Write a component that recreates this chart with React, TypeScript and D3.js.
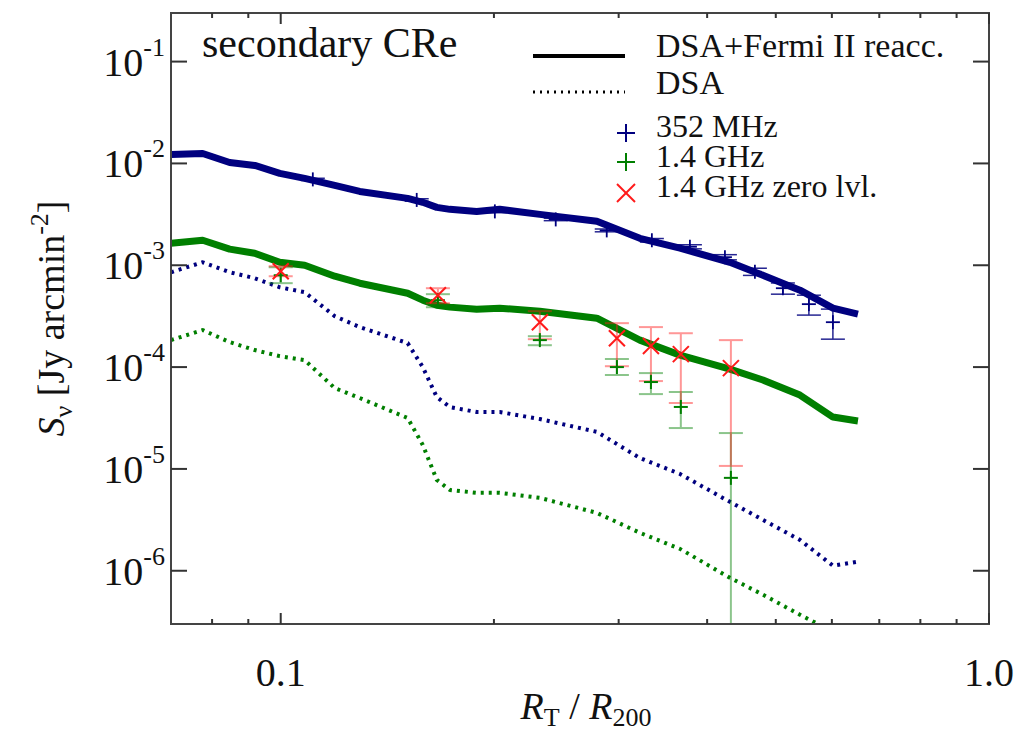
import React from 'react';
import * as d3 from 'd3';

// Model radial grid (R_T / R_200)
const radiusGrid = [0.0700, 0.0776, 0.0847, 0.0919, 0.0997, 0.1081, 0.1192, 0.1293, 0.1511, 0.1587, 0.1661, 0.1733, 0.1891, 0.2038, 0.2322, 0.2795, 0.3214, 0.3662, 0.4307, 0.4795, 0.5408, 0.6021, 0.6531];
// DSA + Fermi II reacceleration, 352 MHz (blue solid)
const reacc352 = [1.225e-2, 1.25e-2, 1.02e-2, 9.56e-3, 7.98e-3, 7.13e-3, 6.08e-3, 5.31e-3, 4.54e-3, 4.15e-3, 3.70e-3, 3.54e-3, 3.38e-3, 3.54e-3, 3.16e-3, 2.70e-3, 1.84e-3, 1.47e-3, 1.07e-3, 7.98e-4, 5.69e-4, 3.79e-4, 3.31e-4];
// DSA + Fermi II reacceleration, 1.4 GHz (green solid)
const reacc14 = [1.64e-3, 1.76e-3, 1.44e-3, 1.31e-3, 1.07e-3, 1.0e-3, 7.80e-4, 6.66e-4, 5.31e-4, 4.54e-4, 4.05e-4, 3.88e-4, 3.70e-4, 3.79e-4, 3.54e-4, 3.02e-4, 1.84e-4, 1.31e-4, 9.56e-5, 7.46e-5, 5.31e-5, 3.23e-5, 2.96e-5];
// DSA only, 352 MHz (blue dotted)
const dsa352 = [8.54e-4, 1.07e-3, 8.54e-4, 7.46e-4, 6.08e-4, 5.44e-4, 3.16e-4, 2.47e-4, 1.72e-4, 1.0e-4, 5.08e-5, 4.05e-5, 3.62e-5, 3.62e-5, 3.09e-5, 2.31e-5, 1.28e-5, 8.93e-6, 4.75e-6, 3.16e-6, 2.01e-6, 1.12e-6, 1.23e-6];
// DSA only, 1.4 GHz (green dotted)
const dsa14 = [1.84e-4, 2.31e-4, 1.76e-4, 1.47e-4, 1.28e-4, 1.17e-4, 6.22e-5, 4.97e-5, 3.16e-5, 1.72e-5, 7.80e-6, 6.22e-6, 5.82e-6, 5.82e-6, 5.20e-6, 3.70e-6, 2.36e-6, 1.64e-6, 8.54e-7, 5.82e-7, 3.70e-7, 2.52e-7, 1.88e-7];

// Observations 352 MHz
const obs352R = [0.1110, 0.1556, 0.2006, 0.2445, 0.2886, 0.3342, 0.3782, 0.4238, 0.4672, 0.5117, 0.5568, 0.6020];
const obs352S = [6.97e-3, 4.38e-3, 3.38e-3, 2.82e-3, 2.20e-3, 1.76e-3, 1.52e-3, 1.20e-3, 8.63e-4, 5.95e-4, 4.15e-4, 2.76e-4];
const obs352Lo = [6.8e-3, 4.25e-3, 3.28e-3, 2.74e-3, 2.13e-3, 1.69e-3, 1.45e-3, 1.13e-3, 7.95e-4, 5.2e-4, 3.24e-4, 1.88e-4];
const obs352Hi = [7.15e-3, 4.5e-3, 3.48e-3, 2.9e-3, 2.27e-3, 1.83e-3, 1.59e-3, 1.27e-3, 9.35e-4, 6.7e-4, 5.08e-4, 3.71e-4];

// Observations 1.4 GHz
const obs14R = [0.1, 0.1667, 0.2322, 0.2983, 0.3332, 0.3672, 0.4321];
const obs14S = [7.98e-4, 4.54e-4, 1.84e-4, 1.0e-4, 7.13e-5, 4.06e-5, 8.17e-6];
const obs14Lo = [6.67e-4, 3.87e-4, 1.64e-4, 8.36e-5, 5.43e-5, 2.52e-5, 1e-9];
const obs14Hi = [9.56e-4, 5.2e-4, 2.01e-4, 1.2e-4, 8.73e-5, 5.69e-5, 2.25e-5];
// 1.4 GHz zero level corrected
const zeroS = [8.73e-4, 5.08e-4, 2.76e-4, 1.92e-4, 1.61e-4, 1.34e-4, 9.77e-5];
const zeroLo = [7.8e-4, 4.24e-4, 1.88e-4, 1.02e-4, 7.29e-5, 4.44e-5, 1.07e-5];
const zeroHi = [9.78e-4, 5.95e-4, 3.54e-4, 2.70e-4, 2.47e-4, 2.15e-4, 1.84e-4];

const yTickExps = [-1, -2, -3, -4, -5, -6];
const xMajorTicks = [0.1, 1.0];
const xMajorLabels = ['0.1', '1.0'];
const xMinorTicks = [0.08, 0.09, 0.2, 0.3, 0.4, 0.5, 0.6, 0.7, 0.8, 0.9];

const legendLines = ['DSA+Fermi II reacc.', 'DSA'];
const legendMarkers = ['352 MHz', '1.4 GHz', '1.4 GHz zero lvl.'];

const W = 1023, H = 739;
const L = 171, R = 989, T = 13, B = 624;
const FONT = '"Liberation Serif", "Times New Roman", Times, serif';
const BLUE = '#00007f';
const GREEN = '#007f00';
const RED = '#ff1a1a';

export default function App() {
  const x = d3.scaleLog().domain([0.07, 1.0]).range([L, R]);
  const y = d3.scaleLog().domain([3e-7, 0.3]).range([B, T]);
  const line = d3.line<[number, number]>().x(d => x(d[0])).y(d => y(d[1]));
  const mk = (vals: number[]) => line(radiusGrid.map((r, i) => [r, vals[i]] as [number, number])) || '';

  const plus = (cx: number, cy: number, s: number, color: string, w: number, key: string) => (
    <g key={key} stroke={color} strokeWidth={w}>
      <line x1={cx - s / 2} x2={cx + s / 2} y1={cy} y2={cy} />
      <line x1={cx} x2={cx} y1={cy - s / 2} y2={cy + s / 2} />
    </g>
  );
  const cross = (cx: number, cy: number, s: number, color: string, w: number, key: string) => (
    <g key={key} stroke={color} strokeWidth={w}>
      <line x1={cx - s / 2} x2={cx + s / 2} y1={cy - s / 2} y2={cy + s / 2} />
      <line x1={cx - s / 2} x2={cx + s / 2} y1={cy + s / 2} y2={cy - s / 2} />
    </g>
  );
  const errBar = (r: number, lo: number, hi: number, color: string, w: number, cap: number, op: number, key: string) => {
    const cx = x(r);
    const y1 = y(hi), y2 = y(lo);
    return (
      <g key={key} stroke={color} strokeWidth={w} opacity={op}>
        <line x1={cx} x2={cx} y1={y1} y2={y2} />
        <line x1={cx - cap / 2} x2={cx + cap / 2} y1={y1} y2={y1} />
        <line x1={cx - cap / 2} x2={cx + cap / 2} y1={y2} y2={y2} />
      </g>
    );
  };

  return (
    <svg width={W} height={H} style={{ position: 'absolute', left: 0, top: 0, background: '#fff' }} fontFamily={FONT}>
      <defs>
        <clipPath id="plotclip"><rect x={L} y={T} width={R - L} height={B - T} /></clipPath>
      </defs>
      <g clipPath="url(#plotclip)" fill="none" strokeLinejoin="round">
        <path d={mk(dsa352)} stroke={BLUE} strokeWidth={4} strokeDasharray="3,5" />
        <path d={mk(dsa14)} stroke={GREEN} strokeWidth={4} strokeDasharray="3,5" />
        <path d={mk(reacc352)} stroke={BLUE} strokeWidth={7} />
        <path d={mk(reacc14)} stroke={GREEN} strokeWidth={7} />
        {obs352R.map((r, i) => errBar(r, obs352Lo[i], obs352Hi[i], BLUE, 1.5, 24, 0.85, 'e352' + i))}
        {obs352R.map((r, i) => plus(x(r), y(obs352S[i]), 14, BLUE, 1.8, 'p352' + i))}
        {obs14R.map((r, i) => errBar(r, obs14Lo[i], obs14Hi[i], GREEN, 2, 24, 0.45, 'e14' + i))}
        {obs14R.map((r, i) => errBar(r, zeroLo[i], zeroHi[i], RED, 2, 24, 0.45, 'ez' + i))}
        {obs14R.map((r, i) => plus(x(r), y(obs14S[i]), 14, GREEN, 2, 'p14' + i))}
        {obs14R.map((r, i) => cross(x(r), y(zeroS[i]), 16, RED, 2, 'pz' + i))}
      </g>
      {/* frame */}
      <rect x={L} y={T} width={R - L} height={B - T} fill="none" stroke="#444" strokeWidth={2} />
      {/* y ticks */}
      {yTickExps.map(e => {
        const ty = y(Math.pow(10, e));
        return (
          <g key={'yt' + e}>
            <line x1={L} x2={L + 16} y1={ty} y2={ty} stroke="#333" strokeWidth={2} />
            <line x1={R} x2={R - 16} y1={ty} y2={ty} stroke="#333" strokeWidth={2} />
            <text x={L - 6} y={ty + 14} textAnchor="end" fontSize={40} fill="#111">
              <tspan>10</tspan>
              <tspan fontSize={26} dy={-20}>{'-' + Math.abs(e)}</tspan>
            </text>
          </g>
        );
      })}
      {/* x ticks */}
      {xMajorTicks.map((t, i) => (
        <g key={'xM' + i}>
          <line x1={x(t)} x2={x(t)} y1={B} y2={B - 11} stroke="#333" strokeWidth={2} />
          <line x1={x(t)} x2={x(t)} y1={T} y2={T + 11} stroke="#333" strokeWidth={2} />
          <text x={x(t)} y={686} textAnchor="middle" fontSize={40} fill="#111">{xMajorLabels[i]}</text>
        </g>
      ))}
      {xMinorTicks.map((t, i) => (
        <g key={'xm' + i}>
          <line x1={x(t)} x2={x(t)} y1={B} y2={B - 5} stroke="#333" strokeWidth={2} />
          <line x1={x(t)} x2={x(t)} y1={T} y2={T + 5} stroke="#333" strokeWidth={2} />
        </g>
      ))}
      {/* axis labels */}
      <text x={586} y={719} textAnchor="middle" fontSize={38} fill="#111">
        <tspan fontStyle="italic">R</tspan>
        <tspan fontSize={26} dy={7}>T</tspan>
        <tspan dy={-7}> / </tspan>
        <tspan fontStyle="italic">R</tspan>
        <tspan fontSize={26} dy={7}>200</tspan>
      </text>
      <text transform={`translate(64, ${(T + B) / 2}) rotate(-90)`} textAnchor="middle" fontSize={38} fill="#111">
        <tspan fontStyle="italic">S</tspan>
        <tspan fontSize={26} dy={8}>ν</tspan>
        <tspan dy={-8}> [Jy arcmin</tspan>
        <tspan fontSize={26} dy={-16}>-2</tspan>
        <tspan dy={16}>]</tspan>
      </text>
      {/* legend */}
      <text x={202} y={57} fontSize={42} fill="#111">secondary CRe</text>
      <line x1={533} x2={625} y1={56} y2={56} stroke="#000" strokeWidth={4} />
      <line x1={533} x2={625} y1={92} y2={92} stroke="#000" strokeWidth={3} strokeDasharray="2,5" />
      {legendLines.map((t, i) => (
        <text key={'ll' + i} x={656} y={57 + i * 37} fontSize={34} fill="#111">{t}</text>
      ))}
      {plus(626, 133, 18, BLUE, 2, 'lg0')}
      {plus(626, 162, 18, GREEN, 2, 'lg1')}
      {cross(626, 193, 18, RED, 2, 'lg2')}
      {legendMarkers.map((t, i) => (
        <text key={'lm' + i} x={656} y={137 + i * 30} fontSize={32} fill="#111">{t}</text>
      ))}
    </svg>
  );
}
